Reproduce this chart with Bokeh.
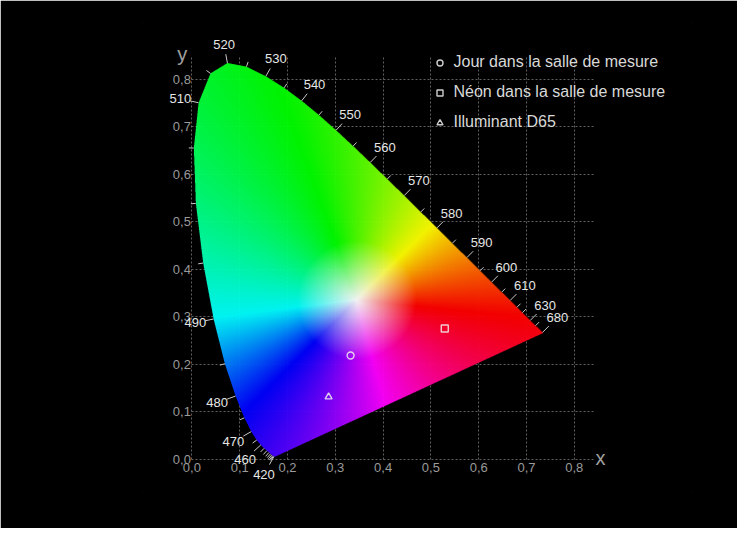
import numpy as np
from bokeh.plotting import figure
from bokeh.models import (ColumnDataSource, LabelSet, Label, Legend, LegendItem,
                          FixedTicker, CustomJSTickFormatter, Range1d)
from bokeh.core.properties import value
from bokeh.embed import file_html
from bokeh.resources import INLINE

# ---------------- data ----------------
WAVELENGTHS = [380, 385, 390, 395, 400, 405, 410, 415, 420, 425, 430, 435, 440, 445,
               450, 455, 460, 465, 470, 475, 480, 485, 490, 495, 500, 505, 510, 515,
               520, 525, 530, 535, 540, 545, 550, 555, 560, 565, 570, 575, 580, 585,
               590, 595, 600, 605, 610, 615, 620, 625, 630, 635, 640, 645, 650, 655,
               660, 665, 670, 675, 680, 685, 690, 695, 700]
LOCUS_X = [0.1741, 0.1740, 0.1738, 0.1736, 0.1733, 0.1730, 0.1726, 0.1721, 0.1714, 0.1703,
           0.1689, 0.1669, 0.1644, 0.1611, 0.1566, 0.1510, 0.1440, 0.1355, 0.1241, 0.1096,
           0.0913, 0.0687, 0.0454, 0.0235, 0.0082, 0.0039, 0.0139, 0.0389, 0.0743, 0.1142,
           0.1547, 0.1929, 0.2296, 0.2658, 0.3016, 0.3373, 0.3731, 0.4087, 0.4441, 0.4788,
           0.5125, 0.5448, 0.5752, 0.6029, 0.6270, 0.6482, 0.6658, 0.6801, 0.6915, 0.7006,
           0.7079, 0.7140, 0.7190, 0.7230, 0.7260, 0.7283, 0.7300, 0.7311, 0.7320, 0.7327,
           0.7334, 0.7340, 0.7344, 0.7346, 0.7347]
LOCUS_Y = [0.0050, 0.0050, 0.0049, 0.0049, 0.0048, 0.0048, 0.0048, 0.0048, 0.0051, 0.0058,
           0.0069, 0.0086, 0.0109, 0.0138, 0.0177, 0.0227, 0.0297, 0.0399, 0.0578, 0.0868,
           0.1327, 0.2007, 0.2950, 0.4127, 0.5384, 0.6548, 0.7502, 0.8120, 0.8338, 0.8262,
           0.8059, 0.7816, 0.7543, 0.7243, 0.6923, 0.6589, 0.6245, 0.5896, 0.5547, 0.5202,
           0.4866, 0.4544, 0.4242, 0.3965, 0.3725, 0.3514, 0.3340, 0.3197, 0.3083, 0.2993,
           0.2920, 0.2859, 0.2809, 0.2770, 0.2740, 0.2717, 0.2700, 0.2689, 0.2680, 0.2673,
           0.2666, 0.2660, 0.2656, 0.2654, 0.2653]
LABELED_WL = [420, 460, 470, 480, 490, 510, 520, 530, 540, 550, 560, 570, 580, 590,
              600, 610, 630, 680]
TICKED_WL = [420, 425, 430, 435, 440, 445, 450, 455, 460, 465, 470, 475, 480, 485, 490,
             495, 500, 505, 510, 515, 520, 525, 530, 535, 540, 545, 550, 555, 560, 565,
             570, 575, 580, 585, 590, 595, 600, 605, 610, 615, 620, 630, 640, 680]

SERIES_NAMES = ["Jour dans la salle de mesure", "Néon dans la salle de mesure", "Illuminant D65"]
SERIES_X = [0.332, 0.529, 0.286]
SERIES_Y = [0.218, 0.275, 0.131]

AXIS_TICKS = [0.0, 0.1, 0.2, 0.3, 0.4, 0.5, 0.6, 0.7, 0.8]
GRID_X_END = 0.84
GRID_Y_END = 0.85

# ---------------- styles / layout ----------------
MARKERS = ["circle", "square", "triangle"]
WHITE_X, WHITE_Y = 0.345, 0.335          # centre of the colour-wheel fill
HUE_ANGLES = [0, 51, 116, 193, 231, 291, 360]   # angle (from red ray) -> hue anchors
HUE_VALUES = [0, 60, 120, 180, 240, 300, 360]
RED_ANGLE = -6.0
SAT_RADIUS = 0.125

W, H = 737, 528
X_SCALE, Y_SCALE = 478.0, 475.0          # pixels per unit
ORIGIN_X, ORIGIN_Y = 191.4, 458.6        # figure pixels of (0, 0)
FRAME_L, FRAME_R, FRAME_T, FRAME_B = 142, 692, 22, 492   # frame in figure pixels

x_start = -(ORIGIN_X - FRAME_L) / X_SCALE
x_end = (FRAME_R - ORIGIN_X) / X_SCALE
y_start = -(FRAME_B - ORIGIN_Y) / Y_SCALE
y_end = (ORIGIN_Y - FRAME_T) / Y_SCALE

lx = np.array(LOCUS_X)
ly = np.array(LOCUS_Y)

# ---------------- colour fill image ----------------
dw = float(np.ceil(lx.max() * 100) / 100 + 0.01)
dh = float(np.ceil(ly.max() * 100) / 100)
nx = int(round(dw * X_SCALE))
ny = int(round(dh * Y_SCALE))
ss = 3


def inside(px, py, vx, vy):
    res = np.zeros(px.shape, dtype=bool)
    n = len(vx)
    j = n - 1
    for i in range(n):
        xi, yi, xj, yj = vx[i], vy[i], vx[j], vy[j]
        if yi != yj:
            cond = ((yi > py) != (yj > py)) & (px < (xj - xi) * (py - yi) / (yj - yi) + xi)
            res ^= cond
        j = i
    return res


sx = (np.arange(nx * ss) + 0.5) / (nx * ss) * dw
sy = (np.arange(ny * ss) + 0.5) / (ny * ss) * dh
SX, SY = np.meshgrid(sx, sy)
mask = inside(SX, SY, lx, ly).astype(float)
alpha = mask.reshape(ny, ss, nx, ss).mean(axis=(1, 3))

cx = (np.arange(nx) + 0.5) / nx * dw
cy = (np.arange(ny) + 0.5) / ny * dh
CX, CY = np.meshgrid(cx, cy)
ang = np.degrees(np.arctan2(CY - WHITE_Y, CX - WHITE_X))
ang = np.mod(ang - RED_ANGLE, 360.0)
hue = np.interp(ang, HUE_ANGLES, HUE_VALUES)
dist = np.hypot(CX - WHITE_X, CY - WHITE_Y)
sat = np.clip(dist / SAT_RADIUS, 0, 1)
h6 = hue / 60.0
pr = np.clip(np.abs(h6 - 3) - 1, 0, 1)
pg = np.clip(2 - np.abs(h6 - 2), 0, 1)
pb = np.clip(2 - np.abs(h6 - 4), 0, 1)
R = 1 - sat * (1 - pr)
G = 1 - sat * (1 - pg)
B = 1 - sat * (1 - pb)

img = np.zeros((ny, nx), dtype=np.uint32)
view = img.view(dtype=np.uint8).reshape((ny, nx, 4))
view[:, :, 0] = (R * 255).astype(np.uint8)
view[:, :, 1] = (G * 255).astype(np.uint8)
view[:, :, 2] = (B * 255).astype(np.uint8)
view[:, :, 3] = (alpha * 242).astype(np.uint8)

# ---------------- figure ----------------
p = figure(width=W, height=H,
           x_range=Range1d(x_start, x_end), y_range=Range1d(y_start, y_end),
           output_backend="svg", toolbar_location=None,
           background_fill_color="black", border_fill_color="black",
           outline_line_color="black",
           min_border_left=FRAME_L, min_border_right=W - FRAME_R,
           min_border_top=FRAME_T, min_border_bottom=H - FRAME_B)

for ax in (p.xaxis[0], p.yaxis[0]):
    ax.ticker = FixedTicker(ticks=AXIS_TICKS)
    ax.formatter = CustomJSTickFormatter(code="return tick.toFixed(1).replace('.', ',');")
    ax.fixed_location = 0
    ax.axis_line_color = None
    ax.major_tick_line_color = None
    ax.minor_tick_line_color = None
    ax.major_tick_out = 0
    ax.major_tick_in = 0
    ax.major_label_text_color = "#9a9a9a"
    ax.major_label_text_font = "Liberation Sans"
    ax.major_label_text_font_size = "13px"
p.xaxis.major_label_standoff = 4
p.yaxis.major_label_standoff = 1

p.xgrid.cross_bounds = (0, GRID_Y_END)
p.ygrid.cross_bounds = (0, GRID_X_END)
p.grid.grid_line_color = "#a0a0a0"
p.grid.grid_line_alpha = 0.6
p.grid.grid_line_dash = "2 2"
p.grid.grid_line_width = 1
p.grid.level = "guide"

p.image_rgba(image=[img], x=0, y=0, dw=dw, dh=dh, level="overlay")

# ---------------- wavelength ticks and labels ----------------
idx = {w: i for i, w in enumerate(WAVELENGTHS)}


def normal_at(w):
    i = idx[w]
    i0, i1 = max(i - 1, 0), min(i + 1, len(WAVELENGTHS) - 1)
    tx = (lx[i1] - lx[i0]) * X_SCALE
    ty = (ly[i1] - ly[i0]) * Y_SCALE
    nxv, nyv = -ty, tx
    n = np.hypot(nxv, nyv)
    return nxv / n, nyv / n


tick_x, tick_y, tick_ang, tick_len = [], [], [], []
for w in TICKED_WL:
    nxv, nyv = normal_at(w)
    tick_x.append(lx[idx[w]])
    tick_y.append(ly[idx[w]])
    tick_ang.append(float(np.arctan2(nyv, nxv)))
    tick_len.append(9 if w in LABELED_WL else 5)

p.ray(x=tick_x, y=tick_y, angle=tick_ang, length=tick_len, length_units="screen",
      line_color="#c8c8c8", line_width=1, level="overlay")

lab_x, lab_y, lab_t, lab_xo, lab_yo = [], [], [], [], []
for w in LABELED_WL:
    nxv, nyv = normal_at(w)
    d = 17 + 8 * abs(nxv * nyv)
    lab_x.append(lx[idx[w]])
    lab_y.append(ly[idx[w]])
    lab_t.append(str(w))
    lab_xo.append(nxv * d)
    lab_yo.append(nyv * d)

lsrc = ColumnDataSource(dict(x=lab_x, y=lab_y, t=lab_t, xo=lab_xo, yo=lab_yo))
p.add_layout(LabelSet(x="x", y="y", text="t", x_offset="xo", y_offset="yo", source=lsrc,
                      text_align="center", text_baseline="middle",
                      text_color="#e6e6e6", text_font=value("Liberation Sans"),
                      text_font_size="13px"))

# ---------------- measurement points ----------------
items = []
for name, xx, yy, mk in zip(SERIES_NAMES, SERIES_X, SERIES_Y, MARKERS):
    r = p.scatter(x=[xx], y=[yy], marker=mk, size=7, fill_alpha=0,
                  line_color="#f0f0f0", line_alpha=0.85, line_width=1.4, level="overlay")
    items.append(LegendItem(label=name, renderers=[r]))

# legend: top-left corner at figure pixels (431.5, 52)
leg_left, leg_top, leg_h = 431.5, 52, 3 * 20 + 2 * 10
legend = Legend(items=items,
                location=(leg_left - FRAME_L, FRAME_B - (leg_top + leg_h)),
                orientation="vertical",
                background_fill_alpha=0, border_line_color=None,
                padding=0, margin=0, spacing=10,
                glyph_width=15, glyph_height=15, label_height=20, label_standoff=7,
                label_text_color="#d8d8d8", label_text_font="Liberation Sans",
                label_text_font_size="16px")
p.add_layout(legend)

# ---------------- axis names ----------------
p.add_layout(Label(x=-0.02, y=0.852, text="y", text_align="center", text_baseline="middle",
                   text_color="#a0a0a0", text_font="Liberation Sans", text_font_size="20px"))
p.add_layout(Label(x=0.855, y=0.002, text="x", text_align="center", text_baseline="middle",
                   text_color="#a0a0a0", text_font="Liberation Sans", text_font_size="20px"))

open("out.html", "w").write(file_html(p, INLINE))
